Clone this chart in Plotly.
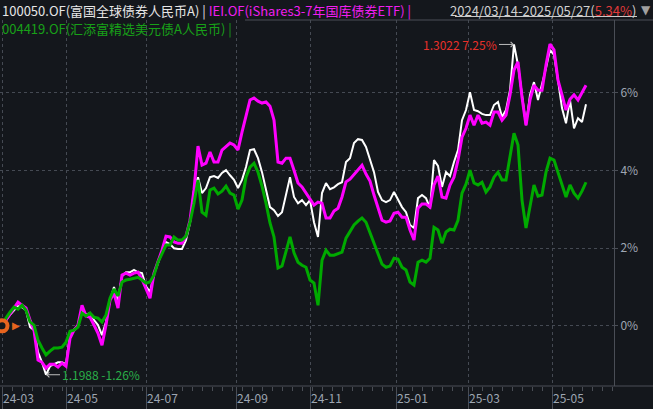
import plotly.graph_objects as go

# ---------------- data ----------------
# trading-day index of each sample (one sample every 2 trading days, first = 2024-03-14)
day_index = list(range(0, 293, 2))

# cumulative return (%) of 100050.OF 富国全球债券人民币A (white)
fund_100050 = [
    0.00, 0.15, 0.28, 0.40, 0.51, 0.48, 0.40, -0.03, -0.11, -0.68,
    -0.94, -1.26, -1.04, -0.99, -0.94, -0.94, -0.99, -0.24, -0.11, -0.01,
    0.40, 0.28, 0.33, 0.15, 0.02, -0.24, 0.10, 0.66, 1.00, 0.66,
    1.28, 1.38, 1.38, 1.44, 1.38, 1.36, 1.02, 0.87, 1.33, 1.64,
    1.90, 2.16, 2.11, 2.00, 1.98, 1.98, 2.21, 2.65, 3.50, 3.83,
    3.42, 3.55, 3.83, 3.86, 3.81, 3.94, 4.01, 3.88, 3.76, 3.55,
    3.76, 4.09, 4.53, 4.55, 4.32, 3.96, 3.50, 3.06, 2.98, 2.83,
    2.93, 3.42, 3.83, 3.32, 3.16, 3.24, 3.11, 3.24, 2.67, 2.29,
    3.42, 3.68, 3.52, 3.57, 3.65, 3.70, 4.22, 4.32, 4.71, 4.81,
    4.79, 4.61, 4.27, 3.96, 3.45, 3.24, 3.19, 3.24, 3.45, 3.24,
    3.06, 2.93, 2.60, 2.52, 3.29, 3.37, 3.29, 3.03, 4.27, 4.12,
    3.58, 3.96, 3.86, 4.22, 4.53, 5.30, 5.56, 6.02, 5.56, 5.53,
    5.46, 5.43, 5.43, 5.69, 5.77, 5.38, 5.56, 6.07, 7.25, 6.72,
    5.89, 5.17, 5.95, 6.28, 5.82, 6.20, 6.64, 7.11, 6.98, 6.33,
    5.61, 5.22, 5.82, 5.09, 5.35, 5.25, 5.71,
]

# cumulative return (%) of IEI.OF iShares3-7年国库债券ETF (magenta)
iei = [
    0.00, 0.15, 0.30, 0.48, 0.61, 0.53, 0.46, 0.15, -0.11, -0.88,
    -0.94, -1.09, -0.99, -0.99, -1.06, -0.96, -1.04, -0.32, -0.11, 0.02,
    0.53, 0.25, 0.22, 0.02, -0.19, -0.50, 0.02, 0.66, 0.84, 0.46,
    1.31, 1.36, 1.31, 1.36, 1.38, 1.20, 0.97, 0.71, 1.36, 1.64,
    1.95, 2.31, 2.29, 2.16, 2.13, 2.13, 2.31, 2.72, 3.50, 4.63,
    4.14, 4.19, 4.48, 4.22, 4.22, 4.53, 4.63, 4.71, 4.66, 4.53,
    4.99, 5.43, 5.82, 5.87, 5.79, 5.74, 5.77, 5.66, 5.30, 4.22,
    4.19, 4.32, 4.32, 4.01, 3.68, 3.58, 3.42, 3.24, 3.11, 3.19,
    3.16, 2.78, 2.78, 2.96, 3.03, 3.32, 3.71, 3.78, 3.91, 4.01,
    4.14, 3.91, 3.73, 3.37, 3.03, 2.72, 2.67, 2.70, 2.90, 2.93,
    2.80, 2.80, 2.47, 2.21, 3.03, 3.14, 3.14, 3.06, 3.63, 3.86,
    3.32, 3.29, 3.63, 3.83, 4.27, 4.86, 5.09, 5.43, 5.17, 5.43,
    5.22, 5.25, 5.17, 5.51, 5.51, 5.30, 5.43, 5.95, 6.59, 6.80,
    5.89, 5.17, 5.82, 6.20, 6.07, 6.07, 6.72, 7.26, 7.11, 6.33,
    5.95, 5.56, 5.84, 5.95, 5.82, 6.02, 6.20,
]

# cumulative return (%) of 004419.OF 汇添富精选美元债A人民币 (green)
fund_004419 = [
    0.00, 0.20, 0.35, 0.48, 0.43, 0.53, 0.40, 0.10, 0.02, -0.37,
    -0.57, -0.75, -0.65, -0.57, -0.57, -0.55, -0.42, -0.14, -0.11, -0.03,
    0.33, 0.25, 0.33, 0.22, 0.20, 0.10, 0.28, 0.71, 0.95, 0.77,
    1.13, 1.18, 1.20, 1.23, 1.25, 1.18, 1.10, 1.13, 1.31, 1.64,
    1.87, 2.08, 2.08, 2.29, 2.21, 2.21, 2.31, 2.67, 3.16, 3.76,
    2.93, 2.85, 3.50, 3.55, 3.40, 3.47, 3.60, 3.42, 3.37, 3.01,
    3.24, 3.83, 4.09, 4.19, 3.96, 3.60, 3.16, 2.65, 2.29, 1.49,
    1.54, 1.95, 2.29, 1.88, 1.64, 1.56, 1.51, 1.18, 1.10, 0.53,
    1.69, 1.95, 1.82, 1.82, 1.87, 1.90, 2.26, 2.44, 2.60, 2.70,
    2.78, 2.67, 2.39, 2.13, 1.85, 1.59, 1.51, 1.54, 1.74, 1.72,
    1.51, 1.44, 1.13, 1.05, 1.64, 1.69, 1.64, 1.74, 2.54, 2.47,
    2.13, 2.42, 2.49, 2.47, 2.72, 3.42, 3.65, 4.01, 3.68, 3.63,
    3.70, 3.45, 3.58, 3.83, 3.96, 3.76, 3.76, 4.35, 4.96, 4.66,
    3.24, 2.52, 3.11, 3.63, 3.34, 3.37, 3.96, 4.32, 4.27, 3.96,
    3.68, 3.32, 3.63, 3.42, 3.29, 3.47, 3.70,
]

tick_days = [0, 32, 72, 117, 154, 197, 233, 275]
tick_labels = ["24-03", "24-05", "24-07", "24-09", "24-11", "25-01", "25-03", "25-05"]
y_ticks = [0, 2, 4, 6]
y_tick_labels = ["0%", "2%", "4%", "6%"]

nav_max, nav_min = "1.3022", "1.1988"
range_text = "2024/03/14-2025/05/27"
range_return = "5.34%"

# ---------------- style ----------------
BG = "#14171c"
GRID = "#454a53"
AXIS = "#4a4e56"
TICKFONT = "#9ea6b2"
FONT = "Noto Sans CJK SC, Noto Sans, sans-serif"
WHITE, MAGENTA, GREEN = "#ffffff", "#ff00ff", "#00aa00"
ORANGE = "#e8641e"

fig = go.Figure()
fig.add_trace(go.Scatter(x=day_index, y=fund_100050, mode="lines",
                         line=dict(color=WHITE, width=2), hoverinfo="skip"))
fig.add_trace(go.Scatter(x=day_index, y=iei, mode="lines",
                         line=dict(color=MAGENTA, width=3), hoverinfo="skip"))
fig.add_trace(go.Scatter(x=day_index, y=fund_004419, mode="lines",
                         line=dict(color=GREEN, width=3), hoverinfo="skip"))
# start marker
fig.add_trace(go.Scatter(x=[day_index[0]], y=[fund_100050[0]], mode="markers",
                         marker=dict(size=11, color=BG, line=dict(color=ORANGE, width=4)),
                         hoverinfo="skip"))

imax = max(range(len(fund_100050)), key=lambda i: fund_100050[i])
imin = min(range(len(fund_100050)), key=lambda i: fund_100050[i])

annotations = [
    dict(xref="paper", yref="paper", x=0, y=1, xshift=1, yshift=9.5, borderpad=0,
         xanchor="left", yanchor="middle", showarrow=False,
         font=dict(family=FONT, size=13),
         text=("<span style='color:#e6e6e6'>100050.OF(富国全球债券人民币A) | </span>"
               "<span style='color:#f01ef0'>IEI.OF(iShares3-7年国库债券ETF) |</span>")),
    dict(xref="paper", yref="paper", x=0, y=1, xshift=1, yshift=-8, borderpad=0,
         xanchor="left", yanchor="middle", showarrow=False,
         font=dict(family=FONT, size=13, color="#18a018"),
         text="004419.OF(汇添富精选美元债A人民币) |"),
    dict(xref="paper", yref="paper", x=637 / 614, y=1, yshift=9.5, borderpad=0,
         xanchor="right", yanchor="middle", showarrow=False,
         font=dict(family=FONT, size=13, color="#d0d0d0"),
         text=f"{range_text}(<span style='color:#e03a3a'>{range_return}</span>)"),
    dict(xref="paper", yref="paper", x=646 / 614, y=1, yshift=10, borderpad=0,
         xanchor="center", yanchor="middle", showarrow=False,
         font=dict(family="DejaVu Sans", size=12, color="#a0a0a0"), text="▼"),
    dict(x=day_index[imax], y=fund_100050[imax], ax=-15, ay=0,
         xanchor="right", yanchor="middle", showarrow=True,
         arrowhead=4, arrowsize=1, arrowwidth=1, arrowcolor="#bdbdbd",
         font=dict(family=FONT, size=12, color="#e8302a"),
         text=f"{nav_max} {fund_100050[imax]:.2f}%"),
    dict(x=day_index[imin], y=fund_100050[imin], ax=14, ay=0,
         xanchor="left", yanchor="middle", showarrow=True,
         arrowhead=4, arrowsize=1, arrowwidth=1, arrowcolor="#bdbdbd",
         font=dict(family=FONT, size=12, color="#2aae48"),
         text=f"{nav_min} {fund_100050[imin]:.2f}%"),
    dict(x=day_index[0], y=fund_100050[0], xshift=14, showarrow=False,
         xanchor="center", yanchor="middle",
         font=dict(family="DejaVu Sans", size=10, color=ORANGE), text="▶"),
]
# x tick labels, left-aligned just right of each tick
for d, lab in zip(tick_days, tick_labels):
    annotations.append(dict(x=d, y=0, xref="x", yref="paper", xshift=-1, yshift=-11,
                            xanchor="left", yanchor="middle", showarrow=False,
                            font=dict(family=FONT, size=12, color=TICKFONT), text=lab))

PLOT_W, PLOT_H = 614, 366
shapes = [
    # top border (right of the second legend row)
    dict(type="line", xref="paper", yref="paper", x0=245 / PLOT_W, x1=653 / PLOT_W, y0=1, y1=1,
         line=dict(color=AXIS, width=1)),
    # bottom axis line across the full width
    dict(type="line", xref="paper", yref="paper", x0=0, x1=653 / PLOT_W, y0=0, y1=0,
         line=dict(color=AXIS, width=1)),
    # underline of the date-range selector
    dict(type="line", xref="paper", yref="paper", x0=455 / PLOT_W, x1=637 / PLOT_W,
         y0=1 + 3.5 / PLOT_H, y1=1 + 3.5 / PLOT_H, line=dict(color="#c8c8c8", width=1)),
]

fig.update_layout(
    width=653, height=409,
    margin=dict(l=0, r=39, t=20, b=23, autoexpand=False),
    paper_bgcolor=BG, plot_bgcolor=BG,
    showlegend=False,
    annotations=annotations,
    shapes=shapes,
    xaxis=dict(
        range=[-1, 306], tickmode="array", tickvals=tick_days, showticklabels=False,
        showgrid=True, gridcolor=GRID, griddash="dot", gridwidth=1,
        ticks="outside", ticklen=23, tickcolor=AXIS, tickwidth=1,
        minor=dict(ticks="outside", ticklen=4, tickcolor=AXIS, tick0=0, dtick=5, showgrid=False),
        zeroline=False, showline=False, fixedrange=True, automargin=False,
    ),
    yaxis=dict(
        side="right", range=[-1.55, 7.88], tickmode="array", tickvals=y_ticks,
        ticktext=y_tick_labels, showgrid=True, gridcolor=GRID, griddash="dot", gridwidth=1,
        ticks="outside", ticklen=3, tickcolor=AXIS,
        tickfont=dict(family=FONT, size=12, color=TICKFONT),
        showline=True, linecolor=AXIS, linewidth=1, zeroline=False, fixedrange=True,
        automargin=False,
    ),
)

fig.write_html("out.html", include_plotlyjs=True,
               config={"displayModeBar": False, "staticPlot": True},
               post_script="document.body.style.margin='0';document.body.style.overflow='hidden';")
